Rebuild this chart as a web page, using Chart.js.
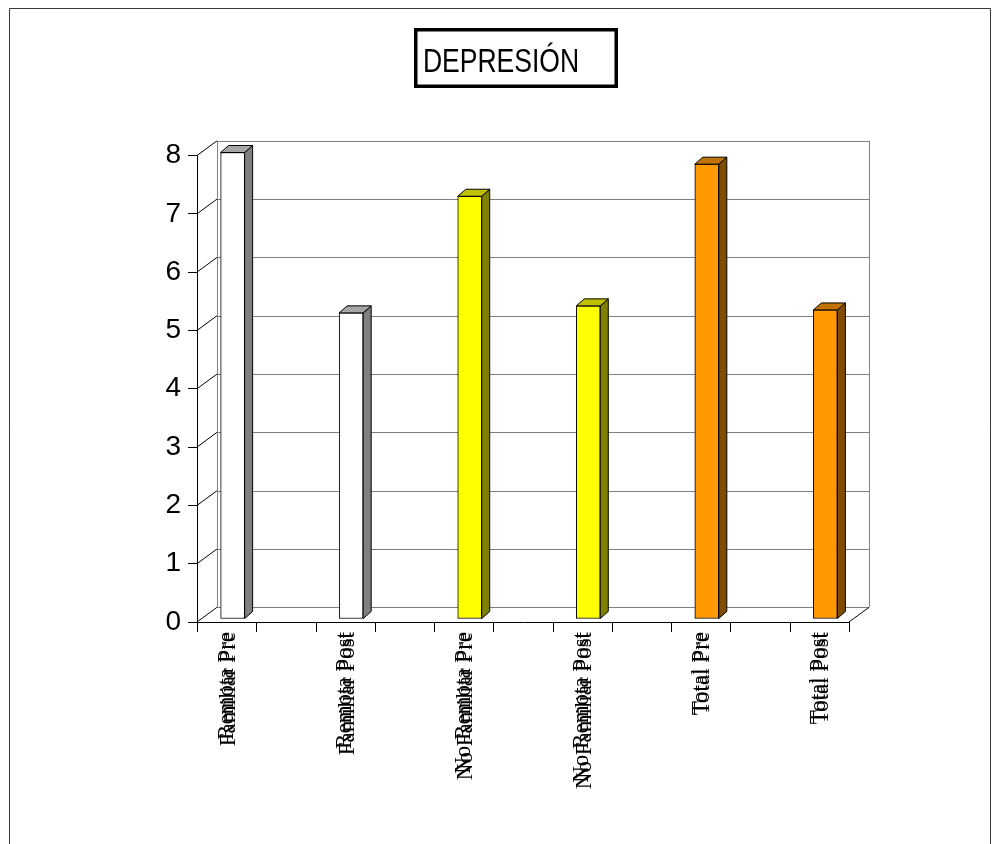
<!DOCTYPE html>
<html>
<head>
<meta charset="utf-8">
<title>DEPRESIÓN</title>
<script src="https://cdn.jsdelivr.net/npm/chart.js@4/dist/chart.umd.min.js"></script>
<style>
  html, body { margin: 0; padding: 0; background: #ffffff; }
  #wrap { width: 1003px; height: 844px; position: relative; }
</style>
</head>
<body>
<div id="wrap"><canvas id="chart"></canvas></div>
<script>
// Category names: each axis label is printed as two overlapping lines
const labelsA = ["Remota Pre", "Remota Post", "No Remota Pre", "No Remota Post", "Total Pre", "Total Post"];
const labelsB = ["Familiar Pre", "Familiar Post", "No Familiar Pre", "No Familiar Post", "Total Pre", "Total Post"];

// Mean depression score per group
const depresion = [8, 5.25, 7.25, 5.37, 7.8, 5.3];

// Value axis ticks
const yTicks = [0, 1, 2, 3, 4, 5, 6, 7, 8];

// Bar face colours (front, right side, top)
const frontColors = ["#ffffff", "#ffffff", "#ffff00", "#ffff00", "#ff9900", "#ff9900"];
const sideColors  = ["#808080", "#808080", "#808000", "#808000", "#7f4c00", "#7f4c00"];
const topColors   = ["#a6a6a6", "#a6a6a6", "#c0c000", "#c0c000", "#c07300", "#c07300"];

const TITLE = "DEPRESIÓN";

// depth of the floor / back wall, and of each bar
const WALL_DX = 20, WALL_DY = 14.7;
const BAR_DX = 8, BAR_DY = 7;
const BAR_SHIFT_X = 6, BAR_SHIFT_Y = -3;

const frame3d = {
  id: 'frame3d',
  beforeDraw(chart) {
    const ctx = chart.ctx;
    const xs = chart.scales.x, ys = chart.scales.y;
    const W = chart.width, H = chart.height;
    ctx.save();
    ctx.fillStyle = '#ffffff';
    ctx.fillRect(0, 0, W, H);

    // outer frame (open at the bottom)
    ctx.strokeStyle = '#3a3a3a';
    ctx.lineWidth = 1;
    ctx.beginPath();
    ctx.moveTo(9.5, H);
    ctx.lineTo(9.5, 8.5);
    ctx.lineTo(990.5, 8.5);
    ctx.lineTo(990.5, H);
    ctx.stroke();

    // title box
    ctx.strokeStyle = '#000000';
    ctx.lineWidth = 3.5;
    ctx.strokeRect(415.75, 29.75, 200.5, 56.5);
    ctx.save();
    ctx.translate(501, 72);
    ctx.scale(0.78, 1);
    ctx.fillStyle = '#000000';
    ctx.font = '34px "Liberation Sans", Arial, sans-serif';
    ctx.textAlign = 'center';
    ctx.textBaseline = 'alphabetic';
    ctx.fillText(TITLE, 0, 0);
    ctx.restore();

    // back wall: gridlines and edges
    const left = xs.left, right = xs.right;
    const bl = left + WALL_DX, br = right + WALL_DX;
    const yTop = ys.getPixelForValue(yTicks[yTicks.length - 1]) - WALL_DY;
    const yBot = ys.getPixelForValue(0) - WALL_DY;
    ctx.lineWidth = 1;
    ctx.strokeStyle = '#808080';
    yTicks.forEach(v => {
      const y = Math.round(ys.getPixelForValue(v) - WALL_DY) + 0.5;
      ctx.beginPath();
      ctx.moveTo(bl, y);
      ctx.lineTo(br, y);
      ctx.stroke();
    });
    ctx.beginPath();
    ctx.moveTo(Math.round(bl) + 0.5, yTop);
    ctx.lineTo(Math.round(bl) + 0.5, yBot);
    ctx.moveTo(Math.round(br) + 0.5, yTop);
    ctx.lineTo(Math.round(br) + 0.5, yBot);
    ctx.stroke();

    // side wall diagonals and floor edge
    ctx.strokeStyle = '#000000';
    yTicks.forEach(v => {
      const y = ys.getPixelForValue(v);
      ctx.beginPath();
      ctx.moveTo(left, y);
      ctx.lineTo(bl, y - WALL_DY);
      ctx.stroke();
    });
    const y0 = ys.getPixelForValue(0);
    ctx.beginPath();
    ctx.moveTo(right, y0);
    ctx.lineTo(br, y0 - WALL_DY);
    ctx.stroke();

    // category tick marks along the front edge of the floor
    const n = (xs.max - xs.min) / 0.5;
    ctx.beginPath();
    for (let k = 0; k <= n; k++) {
      const x = Math.round(xs.getPixelForValue(xs.min + 0.5 * k)) + 0.5;
      ctx.moveTo(x, y0);
      ctx.lineTo(x, y0 + 10);
    }
    ctx.stroke();
    ctx.restore();
  },
  beforeDatasetsDraw(chart) {
    chart.ctx.save();
    chart.ctx.translate(BAR_SHIFT_X, BAR_SHIFT_Y);
  },
  afterDatasetsDraw(chart) {
    const ctx = chart.ctx;
    const meta = chart.getDatasetMeta(0);
    meta.data.forEach((bar, i) => {
      const p = bar.getProps(['x', 'y', 'base', 'width'], true);
      const l = p.x - p.width / 2, r = p.x + p.width / 2;
      const t = p.y, b = p.base;
      ctx.lineWidth = 1;
      ctx.strokeStyle = '#000000';
      // right side
      ctx.beginPath();
      ctx.moveTo(r, t);
      ctx.lineTo(r + BAR_DX, t - BAR_DY);
      ctx.lineTo(r + BAR_DX, b - BAR_DY);
      ctx.lineTo(r, b);
      ctx.closePath();
      ctx.fillStyle = sideColors[i];
      ctx.fill();
      ctx.stroke();
      // top
      ctx.beginPath();
      ctx.moveTo(l, t);
      ctx.lineTo(l + BAR_DX, t - BAR_DY);
      ctx.lineTo(r + BAR_DX, t - BAR_DY);
      ctx.lineTo(r, t);
      ctx.closePath();
      ctx.fillStyle = topColors[i];
      ctx.fill();
      ctx.stroke();
    });
    ctx.restore();
  }
};

new Chart(document.getElementById('chart'), {
  type: 'bar',
  data: {
    datasets: [{
      label: TITLE,
      data: depresion.map((v, i) => ({ x: i, y: v })),
      backgroundColor: frontColors,
      borderColor: '#000000',
      borderWidth: 1,
      borderSkipped: false,
      barThickness: 24,
      clip: false
    }]
  },
  options: {
    responsive: true,
    maintainAspectRatio: false,
    animation: false,
    layout: { padding: { top: 155.5, left: 0, right: 154, bottom: 0 } },
    plugins: {
      legend: { display: false },
      tooltip: { enabled: false },
      title: { display: false }
    },
    scales: {
      x: {
        type: 'linear',
        min: -0.25,
        max: 5.25,
        offset: false,
        afterBuildTicks(scale) {
          scale.ticks = labelsA.map((_, i) => ({ value: i }));
        },
        afterFit(scale) { scale.height = 222; },
        grid: { display: false, drawTicks: false },
        border: { display: true, color: '#000000', width: 1 },
        ticks: {
          autoSkip: false,
          minRotation: 90,
          maxRotation: 90,
          padding: 10,
          color: '#000000',
          font: { family: '"Liberation Serif", "Times New Roman", serif', size: 23, lineHeight: 0.1 },
          callback: (value, index) => [labelsA[index], labelsB[index]]
        }
      },
      y: {
        min: 0,
        max: 8,
        afterBuildTicks(scale) {
          scale.ticks = yTicks.map(v => ({ value: v }));
        },
        afterFit(scale) { scale.width = 197; },
        grid: { drawOnChartArea: false, drawTicks: true, tickLength: 9, color: '#000000' },
        border: { display: true, color: '#000000', width: 1 },
        ticks: {
          padding: 7,
          color: '#000000',
          font: { family: '"Liberation Sans", Arial, sans-serif', size: 28 }
        }
      }
    }
  },
  plugins: [frame3d]
});
</script>
</body>
</html>
